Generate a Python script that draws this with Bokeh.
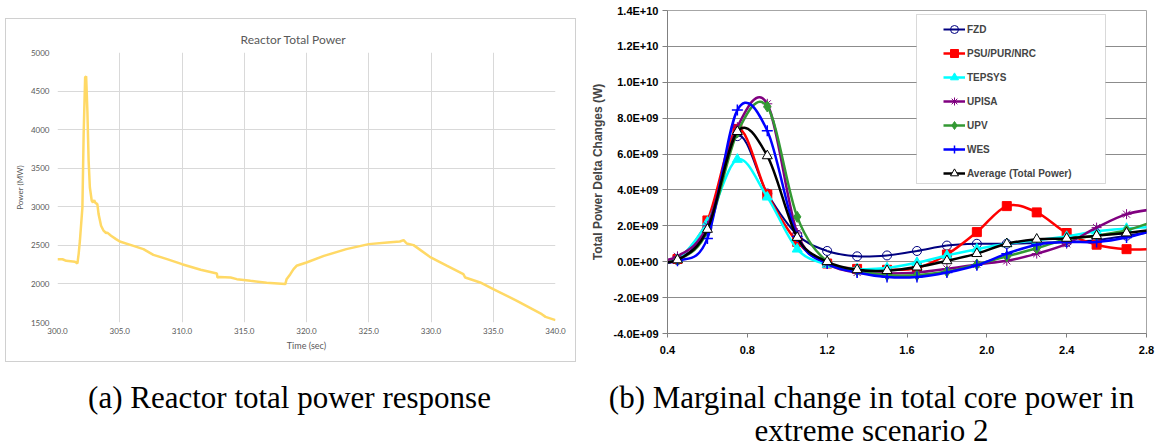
from bokeh.plotting import figure
from bokeh.layouts import column, row
from bokeh.models import (Range1d, FixedTicker, Legend, LegendItem, BoxAnnotation,
                          NumeralTickFormatter, CustomJSTickFormatter, ColumnDataSource)
from bokeh.embed import file_html
from bokeh.resources import INLINE
from bokeh.core.properties import value

# ---------------- (a) Reactor total power ----------------
time_s = [300.0, 300.4, 300.7, 301.4, 301.6, 301.7, 301.8, 302.0, 302.1, 302.22, 302.3,
          302.4, 302.5, 302.6, 302.75, 302.85, 302.95, 303.05, 303.2, 303.3, 303.5, 303.7,
          303.9, 304.0, 304.3, 304.7, 305.0, 306.1, 306.9, 307.7, 308.8, 310.0, 311.5,
          312.8, 312.85, 313.0, 313.9, 314.4, 315.5, 316.8, 318.3, 318.4, 318.7, 318.96,
          319.2, 320.0, 321.4, 323.2, 325.0, 326.5, 327.5, 327.8, 328.05, 328.6, 329.9,
          331.3, 332.6, 332.75, 333.95, 335.0, 336.9, 338.9, 339.2, 340.0]
power_mw = [2320, 2320, 2300, 2287, 2266, 2390, 2560, 2990, 3940, 4680, 4690,
            4244, 3596, 3250, 3078, 3056, 3085, 3050, 3035, 2905, 2754, 2690,
            2660, 2665, 2624, 2581, 2550, 2494, 2451, 2377, 2321, 2256, 2183,
            2135, 2083, 2090, 2083, 2062, 2040, 2015, 1998, 2062, 2127, 2192,
            2235, 2278, 2364, 2451, 2516, 2537, 2550, 2568, 2524, 2503, 2352,
            2235, 2127, 2083, 2019, 1933, 1781, 1608, 1573, 1530]
a_xticks = [300, 305, 310, 315, 320, 325, 330, 335, 340]
a_yticks = [1500, 2000, 2500, 3000, 3500, 4000, 4500, 5000]
a_title = "Reactor Total Power"
a_xlabel = "Time (sec)"
a_ylabel = "Power (MW)"

# ---------------- (b) Total power delta changes ----------------
b_x = [0.3, 0.45, 0.6, 0.75, 0.9, 1.05, 1.2, 1.35, 1.5, 1.65, 1.8, 1.95, 2.1, 2.25, 2.4, 2.55, 2.7, 2.85]
fzd = [0.0e9, 0.1e9, 1.9e9, 7.0e9, 3.8e9, 1.5e9, 0.6e9, 0.3e9, 0.35e9, 0.6e9, 0.9e9, 1.0e9,
       1.0e9, 1.05e9, 1.1e9, 1.2e9, 1.45e9, 1.7e9]
psu = [0.0e9, 0.15e9, 2.3e9, 7.4e9, 3.75e9, 1.1e9, -0.1e9, -0.4e9, -0.45e9, -0.35e9, 0.4e9, 1.65e9,
       3.1e9, 2.75e9, 1.6e9, 0.95e9, 0.7e9, 0.72e9]
tepsys = [0.0e9, 0.15e9, 2.2e9, 5.7e9, 3.6e9, 0.7e9, -0.15e9, -0.4e9, -0.35e9, -0.05e9, 0.35e9, 0.7e9,
          1.0e9, 1.2e9, 1.4e9, 1.7e9, 1.85e9, 1.95e9]
upisa = [0.0e9, 0.3e9, 2.0e9, 7.5e9, 8.8e9, 1.6e9, -0.1e9, -0.6e9, -0.65e9, -0.6e9, -0.4e9, -0.15e9,
         0.05e9, 0.45e9, 1.0e9, 1.9e9, 2.65e9, 2.95e9]
upv = [0.0e9, 0.1e9, 1.7e9, 7.2e9, 8.65e9, 2.5e9, 0.0e9, -0.5e9, -0.75e9, -0.75e9, -0.55e9, -0.15e9,
       0.3e9, 0.75e9, 1.25e9, 1.45e9, 1.75e9, 2.3e9]
wes = [0.0e9, 0.05e9, 1.3e9, 8.45e9, 7.3e9, 1.4e9, -0.1e9, -0.6e9, -0.85e9, -0.85e9, -0.6e9, -0.2e9,
       0.45e9, 0.95e9, 1.1e9, 1.1e9, 1.35e9, 1.8e9]
average = [0.0e9, 0.1e9, 1.8e9, 7.25e9, 5.9e9, 1.35e9, 0.0e9, -0.45e9, -0.5e9, -0.3e9, 0.05e9, 0.45e9,
           1.0e9, 1.25e9, 1.3e9, 1.45e9, 1.6e9, 1.8e9]
series_names = ["FZD", "PSU/PUR/NRC", "TEPSYS", "UPISA", "UPV", "WES", "Average (Total Power)"]
series_values = [fzd, psu, tepsys, upisa, upv, wes, average]
b_yticks = [-4e9, -2e9, 0.0, 2e9, 4e9, 6e9, 8e9, 1e10, 1.2e10, 1.4e10]
b_ytick_labels = ["-4.0E+09", "-2.0E+09", "0.0E+00", "2.0E+09", "4.0E+09", "6.0E+09",
                  "8.0E+09", "1.0E+10", "1.2E+10", "1.4E+10"]
b_xticks = [0.4, 0.8, 1.2, 1.6, 2.0, 2.4, 2.8]
b_ylabel = "Total Power Delta Changes (W)"

captions = ["(a) Reactor total power response",
            "(b) Marginal change in total core power in",
            "extreme scenario 2"]

# ---------------- styles ----------------
styles = [
    dict(color="#000080", marker="circle", size=9, fill=None, lw=2.0, mlw=1.0),
    dict(color="#FF0000", marker="square", size=9, fill="#FF0000", lw=2.5, mlw=1.0),
    dict(color="#00FFFF", marker="triangle", size=10, fill="#00FFFF", lw=2.5, mlw=1.0),
    dict(color="#800080", marker="asterisk", size=10, fill=None, lw=2.5, mlw=1.0),
    dict(color="#339933", marker="diamond", size=11, fill="#339933", lw=2.5, mlw=1.0),
    dict(color="#0000FF", marker="cross", size=11, fill=None, lw=2.5, mlw=1.5),
    dict(color="#000000", marker="triangle", size=10, fill="#FFFFFF", lw=2.5, mlw=1.0),
]


def bezier_segments(xs, ys, k=1.0 / 6.0):
    n = len(xs)
    out = dict(x0=[], y0=[], x1=[], y1=[], cx0=[], cy0=[], cx1=[], cy1=[])
    for i in range(n - 1):
        ip = max(i - 1, 0)
        inn = min(i + 2, n - 1)
        out["x0"].append(xs[i]); out["y0"].append(ys[i])
        out["x1"].append(xs[i + 1]); out["y1"].append(ys[i + 1])
        out["cx0"].append(xs[i] + (xs[i + 1] - xs[ip]) * k)
        out["cy0"].append(ys[i] + (ys[i + 1] - ys[ip]) * k)
        out["cx1"].append(xs[i + 1] - (xs[inn] - xs[i]) * k)
        out["cy1"].append(ys[i + 1] - (ys[inn] - ys[i]) * k)
    return out


# ---------------- figure (a) ----------------
GRAY_TXT = "#595959"
pa = figure(width=569, height=342, x_range=Range1d(300, 340), y_range=Range1d(1500, 5000),
            output_backend="svg", toolbar_location=None,
            min_border_left=51, min_border_right=20, min_border_top=33, min_border_bottom=39)
pa.line(time_s, power_mw, line_color="#FFD966", line_width=2.5)
pa.xaxis.ticker = FixedTicker(ticks=a_xticks)
pa.yaxis.ticker = FixedTicker(ticks=a_yticks)
pa.xaxis.formatter = NumeralTickFormatter(format="0.0")
pa.outline_line_color = None
pa.grid.grid_line_color = "#D9D9D9"
pa.grid.grid_line_width = 1
for ax in (pa.xaxis, pa.yaxis):
    ax.axis_line_color = None
    ax.major_tick_line_color = None
    ax.minor_tick_line_color = None
    ax.major_tick_out = 0
    ax.major_tick_in = 0
    ax.minor_tick_out = 0
    ax.major_label_text_font = "Lato"
    ax.major_label_text_font_size = "8px"
    ax.major_label_text_color = GRAY_TXT
    ax.axis_label_text_font = "Lato"
    ax.axis_label_text_font_style = "normal"
    ax.axis_label_text_color = GRAY_TXT
pa.xaxis.axis_label = a_xlabel
pa.yaxis.axis_label = a_ylabel
pa.xaxis.axis_label_text_font_size = "9px"
pa.yaxis.axis_label_text_font_size = "8px"
pa.yaxis.major_label_standoff = 8
pa.xaxis.major_label_standoff = 5
pa.yaxis.axis_label_standoff = 3
pa.xaxis.axis_label_standoff = 3
pa.title.text = a_title
pa.title.align = "left"
pa.title.offset = 183
pa.title.text_font = "Lato"
pa.title.text_font_size = "12px"
pa.title.text_font_style = "normal"
pa.title.text_color = GRAY_TXT
pa.title.standoff = 11

box_a = column(pa, margin=(18, 4, 1, 5), styles={"border": "1px solid #D0D0D0"})

# ---------------- figure (b) ----------------
pb = figure(width=583, height=363, x_range=Range1d(0.4, 2.8), y_range=Range1d(-4e9, 1.4e10),
            output_backend="svg", toolbar_location=None,
            min_border_left=87, min_border_right=17, min_border_top=10, min_border_bottom=30)
pb.xaxis.ticker = FixedTicker(ticks=b_xticks)
pb.yaxis.ticker = FixedTicker(ticks=b_yticks)
pb.xaxis.formatter = NumeralTickFormatter(format="0.0")
pb.yaxis.formatter = CustomJSTickFormatter(args=dict(yt=b_yticks, yl=b_ytick_labels), code="""
    for (let i = 0; i < yt.length; i++) {
        if (Math.abs(yt[i] - tick) < 1e6) { return yl[i]; }
    }
    return "";
""")
pb.xgrid.grid_line_color = None
pb.ygrid.grid_line_color = "#8C8C8C"
pb.ygrid.grid_line_width = 1
pb.outline_line_color = "#A6A6A6"
for ax in (pb.xaxis, pb.yaxis):
    ax.axis_line_color = "#808080"
    ax.axis_line_width = 1
    ax.major_tick_line_color = "#808080"
    ax.minor_tick_line_color = None
    ax.major_tick_in = 0
    ax.major_label_text_font = "Liberation Sans"
    ax.major_label_text_font_style = "bold"
    ax.major_label_text_font_size = "11px"
    ax.major_label_text_color = "#000000"
pb.yaxis.major_tick_out = 5
pb.xaxis.major_tick_out = 4
pb.yaxis.major_label_standoff = 4
pb.xaxis.major_label_standoff = 8
pb.yaxis.axis_label = b_ylabel
pb.yaxis.axis_label_text_font = "Liberation Sans"
pb.yaxis.axis_label_text_font_style = "bold"
pb.yaxis.axis_label_text_font_size = "12px"
pb.yaxis.axis_label_standoff = 6

items = []
for name, vals, st in zip(series_names, series_values, styles):
    seg = bezier_segments(b_x, vals)
    pb.bezier(x0="x0", y0="y0", x1="x1", y1="y1", cx0="cx0", cy0="cy0", cx1="cx1", cy1="cy1",
              source=ColumnDataSource(seg), line_color=st["color"], line_width=st["lw"])
    sc = pb.scatter(b_x, vals, marker=st["marker"], size=st["size"], line_color=st["color"],
                    fill_color=st["fill"], line_width=st["mlw"])
    # legend-only line: a zero-length segment at the first (off-range, clipped) point
    proxy = pb.line(x=[b_x[0], b_x[0]], y=[vals[0], vals[0]], line_color=st["color"],
                    line_width=st["lw"])
    items.append(LegendItem(label=name, renderers=[proxy, sc]))

pb.add_layout(BoxAnnotation(left=336, right=525, top=14, bottom=183,
                            left_units="canvas", right_units="canvas",
                            top_units="canvas", bottom_units="canvas",
                            fill_color="#FFFFFF", fill_alpha=1.0,
                            line_color="#808080", line_width=1))
legend = Legend(items=items, location=(276, 150), margin=0, padding=2, spacing=4,
                glyph_width=22, glyph_height=20, label_height=20, label_standoff=2,
                label_text_font="Liberation Sans", label_text_font_style="bold",
                label_text_font_size="10px", background_fill_alpha=0.0,
                border_line_color=None)
pb.add_layout(legend, "center")
box_b = column(pb)

# ---------------- captions ----------------
pc = figure(width=1163, height=85, x_range=Range1d(0, 1163), y_range=Range1d(85, 0),
            output_backend="svg", toolbar_location=None,
            min_border=0)
pc.axis.visible = False
pc.grid.visible = False
pc.outline_line_color = None
pc.text(x=[289, 871, 871], y=[34, 34, 67], text=captions,
        text_font=value("Liberation Serif"), text_font_size="31px",
        text_align="center", text_baseline="middle", text_color="#000000")

layout = column(row(box_a, box_b), pc)
open("out.html", "w").write(file_html(layout, INLINE))
